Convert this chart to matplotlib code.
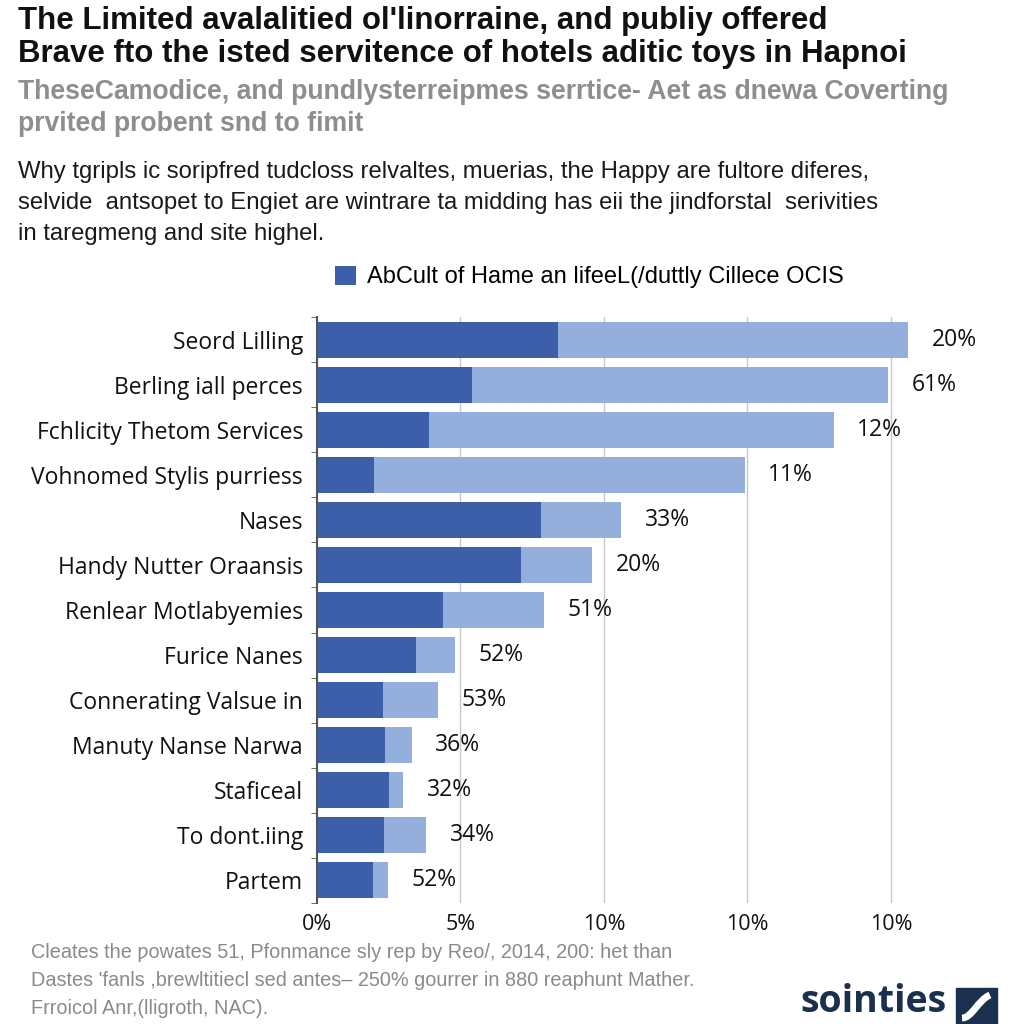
import numpy as np
import matplotlib
matplotlib.use("Agg")
import matplotlib.pyplot as plt
from matplotlib.patches import Rectangle, PathPatch
from matplotlib.path import Path

TITLE = ["The Limited avalalitied ol'linorraine, and publiy offered",
         "Brave fto the isted servitence of hotels aditic toys in Hapnoi"]
SUBTITLE = ["TheseCamodice, and pundlysterreipmes serrtice- Aet as dnewa Coverting",
            "prvited probent snd to fimit"]
DESC = ["Why tgripls ic soripfred tudcloss relvaltes, muerias, the Happy are fultore diferes,",
        "selvide  antsopet to Engiet are wintrare ta midding has eii the jindforstal  serivities",
        "in taregmeng and site highel."]
LEGEND_LABEL = "AbCult of Hame an lifeeL(/duttly Cillece OCIS"
FOOTER = ["Cleates the ƿowates 51, Pfonmance sly rep by Reo/, 2014, 200: het than",
          "Dastes 'fanls ,brewltitiecl sed antes– 250% gourrer in 880 reaphunt Mather.",
          "Frroicol Anr,(lligroth, NAC)."]
LOGO = "sointies"

CATEGORIES = ["Seord Lilling", "Berling iall perces", "Fchlicity Thetom Services",
              "Vohnomed Stylis purriess", "Nases", "Handy Nutter Oraansis",
              "Renlear Motlabyemies", "Furice Nanes", "Connerating Valsue in",
              "Manuty Nanse Narwa", "Staficeal", "To dont.iing", "Partem"]
DARK = [8.4, 5.4, 3.9, 2.0, 7.8, 7.1, 4.4, 3.45, 2.3, 2.37, 2.5, 2.33, 1.95]
LIGHT = [12.2, 14.5, 14.1, 12.9, 2.8, 2.5, 3.5, 1.35, 1.9, 0.93, 0.5, 1.47, 0.52]
VALUE_LABELS = ["20%", "61%", "12%", "11%", "33%", "20%", "51%",
                "52%", "53%", "36%", "32%", "34%", "52%"]
XTICKS = [0, 5, 10, 15, 20]
XTICK_LABELS = ["0%", "5%", "10%", "10%", "10%"]

C_DARK = "#3d5fa9"
C_LIGHT = "#95afdc"
NARROW = ["Liberation Sans Narrow", "Liberation Sans", "DejaVu Sans"]

fig = plt.figure(figsize=(10.24, 10.24), dpi=100)
fig.patch.set_facecolor("white")

# header text
for i, line in enumerate(TITLE):
    fig.text(0.018, 1 - (21 + 33 * i) / 1024, line, fontsize=22.5, fontweight="bold",
             family=NARROW, color="#111111", va="center")
for i, line in enumerate(SUBTITLE):
    fig.text(0.018, 1 - (92 + 32 * i) / 1024, line, fontsize=19.2, fontweight="bold",
             family=NARROW, color="#8e8e8e", va="center")
for i, line in enumerate(DESC):
    fig.text(0.018, 1 - (172 + 31 * i) / 1024, line, fontsize=17.2,
             family=NARROW, color="#1a1a1a", va="center")

# chart
ax = fig.add_axes([317 / 1024, 1 - 903 / 1024, (1000 - 317) / 1024, (903 - 317) / 1024])
y = np.arange(len(CATEGORIES))
ax.barh(y, DARK, height=0.8, color=C_DARK, label=LEGEND_LABEL, zorder=3)
ax.barh(y, LIGHT, left=DARK, height=0.8, color=C_LIGHT, zorder=3)
for yi, d, l, lab in zip(y, DARK, LIGHT, VALUE_LABELS):
    ax.annotate(lab, (d + l, yi), xytext=(17, 0), textcoords="offset points",
                va="center", ha="left", fontsize=16.5, fontweight="medium",
                family="Open Sans", color="#111111")

ax.set_ylim(len(CATEGORIES) - 0.5, -0.5)
ax.set_xlim(0, 23.8)
ax.set_yticks(y)
ax.set_yticklabels(CATEGORIES, fontsize=16.5, family="Open Sans", color="#111111")
ax.set_yticks(np.arange(-0.5, len(CATEGORIES)), minor=True)
ax.tick_params(axis="y", which="major", length=0, pad=10)
ax.tick_params(axis="y", which="minor", length=4, color="#555555")
ax.set_xticks(XTICKS)
ax.set_xticklabels(XTICK_LABELS, fontsize=15.5, family="Open Sans", color="#111111")
ax.tick_params(axis="x", length=0, pad=8)
ax.grid(axis="x", color="#c8c8c8", lw=1, zorder=0)
for s in ["top", "right", "bottom"]:
    ax.spines[s].set_visible(False)
ax.spines["left"].set_color("#555555")
ax.spines["left"].set_linewidth(1.5)
ax.spines["left"].set_zorder(4)

fig.legend(loc="center left", bbox_to_anchor=(323 / 1024, 1 - 277 / 1024), frameon=False,
           handlelength=0.9, handleheight=0.9, handletextpad=0.45, borderpad=0,
           prop={"family": NARROW, "size": 17})

# footer
for i, line in enumerate(FOOTER):
    fig.text(0.03, 1 - (953 + 28 * i) / 1024, line, fontsize=14.3,
             family=NARROW, color="#8a8a8a", va="center")

fig.text(800 / 1024, 1 - 1002 / 1024, LOGO, fontsize=27, fontweight="bold",
         family="Open Sans", color="#1b2f4f", va="center")
fig.patches.append(Rectangle((956 / 1024, 0), 41 / 1024, 36 / 1024,
                             transform=fig.transFigure, color="#1b2f4f"))
swoosh = Path([(962, 1018), (972, 1018), (978, 1000), (990, 995)],
              [Path.MOVETO, Path.CURVE4, Path.CURVE4, Path.CURVE4])
swoosh = Path([(x / 1024, 1 - yy / 1024) for x, yy in swoosh.vertices], swoosh.codes)
fig.patches.append(PathPatch(swoosh, transform=fig.transFigure, fill=False,
                             edgecolor="white", lw=5))

fig.savefig("out.png", dpi=100)
